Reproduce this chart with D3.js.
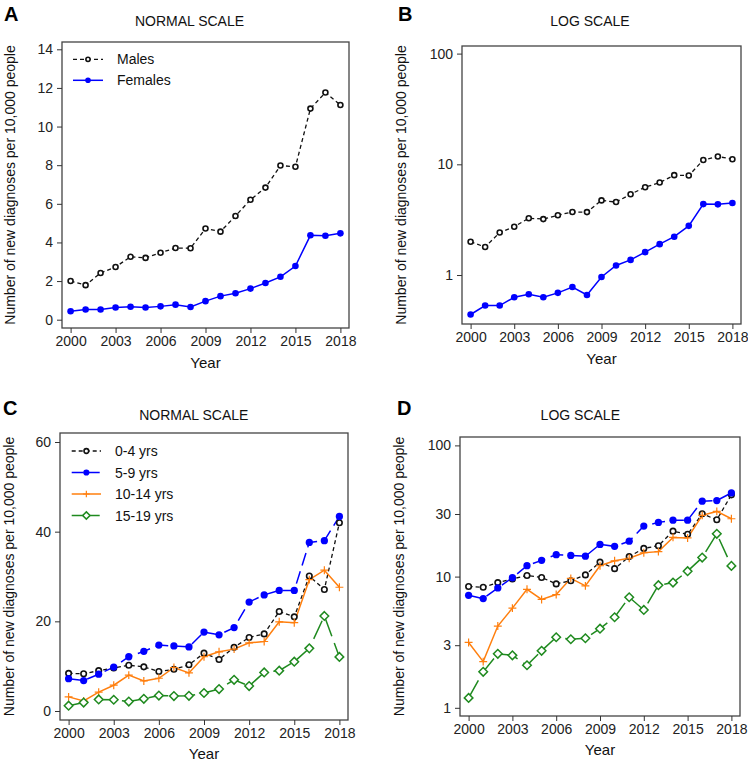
<!DOCTYPE html>
<html><head><meta charset="utf-8">
<script src="https://cdn.jsdelivr.net/npm/d3@7"></script>
<style>
body{margin:0;background:#fff}
svg{font-family:"Liberation Sans",Arial,sans-serif}
</style>
</head><body>
<svg id="chart" width="748" height="765"></svg>
<script>
// ---- data ----
const years = [2000,2001,2002,2003,2004,2005,2006,2007,2008,2009,2010,2011,2012,2013,2014,2015,2016,2017,2018];
const xTicks = [2000,2003,2006,2009,2012,2015,2018];
const males   = [2.0,1.79,2.42,2.73,3.26,3.2,3.47,3.71,3.7,4.72,4.56,5.37,6.21,6.84,7.98,7.92,10.93,11.76,11.12];
const females = [0.44,0.53,0.53,0.63,0.67,0.63,0.69,0.78,0.66,0.96,1.22,1.37,1.61,1.9,2.22,2.78,4.37,4.35,4.47];
const age0_4   = [8.4,8.3,9.0,9.6,10.2,9.85,8.8,9.3,10.3,12.9,11.5,14.2,16.4,17.2,22.2,21.0,30.1,27.1,42.0];
const age5_9   = [7.2,6.8,8.2,9.8,12.1,13.3,14.7,14.5,14.3,17.6,17.0,18.6,24.3,25.9,26.9,26.9,37.6,38.0,43.4];
const age10_14 = [3.15,2.25,4.2,5.75,8.0,6.7,7.3,9.7,8.5,12.1,13.2,13.8,15.2,15.5,19.9,19.7,29.3,31.4,27.6];
const age15_19 = [1.19,1.88,2.58,2.51,2.11,2.72,3.45,3.33,3.39,4.01,4.9,6.96,5.57,8.6,9.0,11.0,13.97,21.2,12.07];
const yTicksA = [0,2,4,6,8,10,12,14];
const yTicksB = [1,10,100];
const yTicksC = [0,20,40,60];
const yTicksD = [1,3,10,30,100];
const sexNames = ["Males","Females"];
const ageNames = ["0-4 yrs","5-9 yrs","10-14 yrs","15-19 yrs"];

// ---- styles ----
const styleBlack  = {color:"#111", dash:"4,3", width:1.3, marker:"ocircle"};
const styleBlue   = {color:"#0000ff", dash:null, width:1.5, marker:"fcircle"};
const styleBlueL  = {color:"#0000ff", dash:"13,6", width:1.5, marker:"fcircle"};
const styleOrange = {color:"#ff7f0e", dash:null, width:1.5, marker:"plus"};
const styleGreen  = {color:"#1f8a1f", dash:"20,7", width:1.5, marker:"diamond"};

const svg = d3.select("#chart");
const PAD = 8.6;

function drawMarker(g, type, cx, cy, color, s){
  if(type==="ocircle"){
    g.append("circle").attr("cx",cx).attr("cy",cy).attr("r",2.5*s)
      .attr("fill","#fff").attr("stroke",color).attr("stroke-width",1.6);
  } else if(type==="fcircle"){
    g.append("circle").attr("cx",cx).attr("cy",cy).attr("r",3.3*s).attr("fill",color);
  } else if(type==="plus"){
    const a=3.6*s;
    g.append("path").attr("d",`M${cx-a},${cy}H${cx+a}M${cx},${cy-a}V${cy+a}`)
      .attr("stroke",color).attr("stroke-width",1.2).attr("fill","none");
  } else if(type==="diamond"){
    const a=3.9*s;
    g.append("path").attr("d",`M${cx},${cy-a}L${cx+a},${cy}L${cx},${cy+a}L${cx-a},${cy}Z`)
      .attr("stroke",color).attr("stroke-width",1.5).attr("fill","#fff");
  }
}

function panel(cfg){
  const g = svg.append("g");
  const x = d3.scaleLinear().domain([2000,2018]).range([cfg.l+PAD, cfg.r-PAD]);
  const y = (cfg.log ? d3.scaleLog() : d3.scaleLinear()).domain(cfg.dom).range([cfg.b-cfg.padB, cfg.t+cfg.padT]);

  // frame
  g.append("rect").attr("x",cfg.l).attr("y",cfg.t).attr("width",cfg.r-cfg.l).attr("height",cfg.b-cfg.t)
    .attr("fill","none").attr("stroke","#444").attr("stroke-width",1.3);

  // axes
  const ya = g.append("g").attr("transform",`translate(${cfg.l},0)`)
    .call(d3.axisLeft(y).tickValues(cfg.yt).tickFormat(d3.format("d")).tickSize(5).tickPadding(4));
  const xa = g.append("g").attr("transform",`translate(0,${cfg.b})`)
    .call(d3.axisBottom(x).tickValues(xTicks).tickFormat(d3.format("d")).tickSize(5).tickPadding(3));
  [ya,xa].forEach(a=>{
    a.select(".domain").remove();
    a.selectAll("line").attr("stroke","#333").attr("stroke-width",1);
    a.selectAll("text").attr("font-size",14).attr("fill","#222").attr("font-family","Liberation Sans, Arial, sans-serif");
  });

  // titles
  g.append("text").attr("x",cfg.titleX).attr("y",cfg.titleY).attr("text-anchor","middle")
    .attr("font-size",14).attr("fill","#111").text(cfg.title);
  g.append("text").attr("x",cfg.letterX).attr("y",cfg.letterY)
    .attr("font-size",20).attr("font-weight","bold").attr("fill","#000").text(cfg.letter);
  g.append("text").attr("x",(cfg.l+cfg.r)/2).attr("y",cfg.yearY).attr("text-anchor","middle")
    .attr("font-size",15).attr("fill","#111").text("Year");
  g.append("text").attr("transform",`translate(${cfg.ytX},${(cfg.t+cfg.b)/2}) rotate(-90)`)
    .attr("text-anchor","middle").attr("font-size",14).attr("fill","#111")
    .text("Number of new diagnoses per 10,000 people");

  // series
  cfg.series.forEach(se=>{
    const line = d3.line().x((d,i)=>x(years[i])).y(d=>y(d));
    g.append("path").datum(se.values).attr("d",line).attr("fill","none")
      .attr("stroke",se.style.color).attr("stroke-width",se.style.width)
      .attr("stroke-dasharray",se.style.dash);
  });
  cfg.series.forEach(se=>{
    const mg = g.append("g");
    se.values.forEach((v,i)=>drawMarker(mg, se.style.marker, x(years[i]), y(v), se.style.color, cfg.ms));
  });

  // legend
  if(cfg.legend){
    const L = cfg.legend;
    cfg.series.forEach((se,i)=>{
      const ly = L.y0 + i*L.dy;
      g.append("line").attr("x1",L.x1).attr("x2",L.x2).attr("y1",ly).attr("y2",ly)
        .attr("stroke",se.style.color).attr("stroke-width",se.style.width)
        .attr("stroke-dasharray",se.style.dash ? (se.style.marker==="ocircle"?"4,3":"12,4"):null);
      drawMarker(g, se.style.marker, (L.x1+L.x2)/2, ly, se.style.color, cfg.ms*0.85);
      g.append("text").attr("x",L.tx).attr("y",ly+5).attr("font-size",14).attr("fill","#111").text(se.name);
    });
  }
}

const sexSeries = [
  {name:sexNames[0], values:males, style:styleBlack},
  {name:sexNames[1], values:females, style:styleBlue}
];
const ageSeries = [
  {name:ageNames[0], values:age0_4, style:styleBlack},
  {name:ageNames[1], values:age5_9, style:styleBlueL},
  {name:ageNames[2], values:age10_14, style:styleOrange},
  {name:ageNames[3], values:age15_19, style:styleGreen}
];

panel({l:62,t:42,r:349,b:328,dom:[0,14],padB:8.3,padT:7.3,log:false,yt:yTicksA,
  title:"NORMAL SCALE",titleX:189.5,titleY:26,letter:"A",letterX:4,letterY:21,
  yearY:368,ytX:15,ms:1,series:sexSeries,
  legend:{x1:73,x2:103,tx:117,y0:59.3,dy:21}});
panel({l:462,t:46,r:741,b:324,dom:[d3.min(females),100],padB:9.5,padT:7.6,log:true,yt:yTicksB,
  title:"LOG SCALE",titleX:590,titleY:26,letter:"B",letterX:398,letterY:21,
  yearY:364,ytX:406,ms:1,series:sexSeries});
panel({l:60,t:433,r:348,b:720,dom:[0,60],padB:9,padT:9,log:false,yt:yTicksC,
  title:"NORMAL SCALE",titleX:193.8,titleY:419.5,letter:"C",letterX:3,letterY:415,
  yearY:758.5,ytX:14,ms:1.1,series:ageSeries,
  legend:{x1:71.7,x2:101,tx:115,y0:451,dy:21.5}});
panel({l:460,t:437,r:740,b:716,dom:[1,100],padB:8.2,padT:8.4,log:true,yt:yTicksD,
  title:"LOG SCALE",titleX:580.3,titleY:419.5,letter:"D",letterX:397,letterY:415,
  yearY:755,ytX:404,ms:1.1,series:ageSeries});
</script>
</body></html>
